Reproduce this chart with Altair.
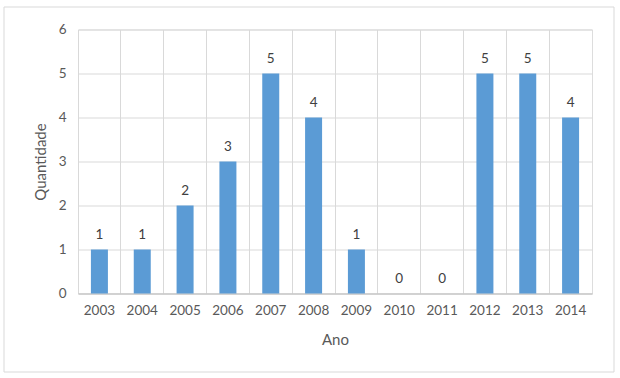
import altair as alt
import pandas as pd

anos = ["2003", "2004", "2005", "2006", "2007", "2008", "2009", "2010", "2011", "2012", "2013", "2014"]
quantidade = [1, 1, 2, 3, 5, 4, 1, 0, 0, 5, 5, 4]

df = pd.DataFrame({"Ano": anos, "Quantidade": quantidade})

FONT = "Lato"
TXT = "#595959"
W, H = 514, 264

base = alt.Chart(df)

frame = base.mark_rect(fill=None, stroke="#d9d9d9", strokeWidth=1, clip=False).encode(
    x=alt.value(-74), x2=alt.value(536), y=alt.value(-22.5), y2=alt.value(342.5)
).transform_filter("datum.Ano == '2003'")

bars = base.mark_bar(color="#5b9bd5", size=17).encode(
    x=alt.X("Ano:N", sort=anos,
            scale=alt.Scale(paddingInner=0, paddingOuter=0),
            axis=alt.Axis(title="Ano", labelAngle=0, bandPosition=0, grid=True,
                          gridColor="#d9d9d9", ticks=False, domainColor="#bfbfbf",
                          labelPadding=10, titlePadding=15, labelFont=FONT,
                          titleFont=FONT, labelFontSize=13.5, titleFontSize=15,
                          titleFontWeight="normal", labelColor=TXT, titleColor=TXT)),
    y=alt.Y("Quantidade:Q", scale=alt.Scale(domain=[0, 6]),
            axis=alt.Axis(title="Quantidade", values=[0, 1, 2, 3, 4, 5, 6], format="d",
                          grid=True, gridColor="#d9d9d9", ticks=False, domain=False,
                          labelPadding=12, titlePadding=10, labelFont=FONT,
                          titleFont=FONT, labelFontSize=13.5, titleFontSize=15,
                          titleFontWeight="normal", labelColor=TXT, titleColor=TXT)),
)

labels = base.mark_text(baseline="bottom", dy=-8, font=FONT, fontSize=13.5, color="#404040").encode(
    x=alt.X("Ano:N", sort=anos),
    y=alt.Y("Quantidade:Q"),
    text=alt.Text("Quantidade:Q", format="d"),
)

chart = alt.layer(frame, bars, labels).properties(
    width=W, height=H,
    autosize=alt.AutoSizeParams(type="none"),
    padding={"left": 78, "top": 29.5, "right": 28, "bottom": 84.5},
).configure_view(stroke="#d9d9d9").configure(background="white")

chart.save("out.html", embed_options={"renderer": "svg", "actions": False})
